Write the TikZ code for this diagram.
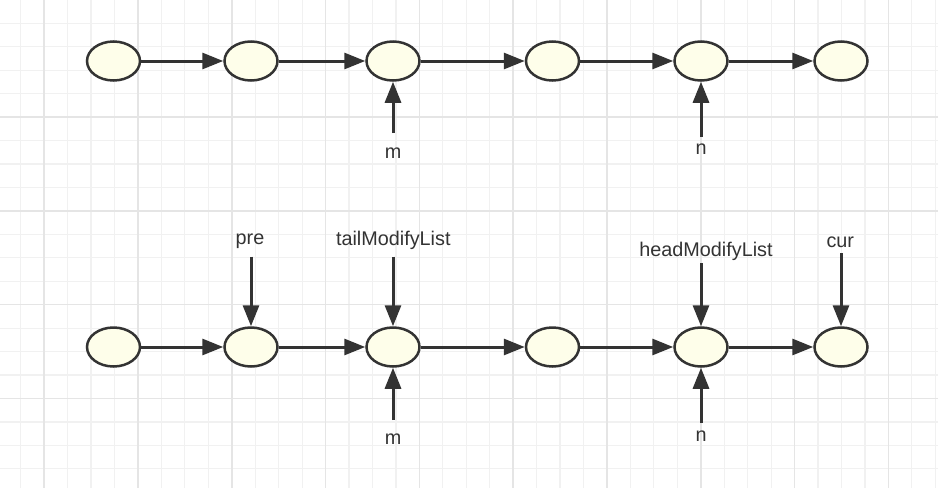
\documentclass[tikz,border=0pt]{standalone}
\usepackage{fontspec}
\setmainfont{Liberation Sans}
\usepackage{tikz}
\usetikzlibrary{arrows.meta,shapes.geometric}

\definecolor{ink}{HTML}{333333}
\definecolor{cellfill}{HTML}{FEFEEA}
\definecolor{gridlo}{HTML}{F1F1F1}
\definecolor{gridhi}{HTML}{E5E5E5}

\begin{document}
\begin{tikzpicture}[x=1pt, y=-1pt,
    cell/.style={ellipse, draw=ink, fill=cellfill, line width=2.5pt, minimum width=53pt, minimum height=39pt, inner sep=0pt},
    arrow/.style={-{Triangle[length=21pt, width=16pt]}, color=ink, line width=3pt},
    lab/.style={font=\fontsize{19.8}{22}\selectfont, text=ink, inner sep=0pt},
    gridminor/.style={draw=gridlo, line width=1.2pt},
    gridmajor/.style={draw=gridhi, line width=1.5pt},
]
% canvas and grid
\useasboundingbox[fill=white] (0,0) rectangle (938,488);
\foreach \gx in {20.7,44.15,...,938} \draw[gridminor] (\gx,0) -- (\gx,488);
\foreach \gy in {23.3,46.75,...,488} \draw[gridminor] (0,\gy) -- (938,\gy);
\foreach \gx in {44.15,137.95,...,938} \draw[gridmajor] (\gx,0) -- (\gx,488);
\foreach \gy in {117.1,210.9,...,488} \draw[gridmajor] (0,\gy) -- (938,\gy);

% top list
\node[cell] (t1) at (113.5, 61) {};
\node[cell] (t2) at (251, 61) {};
\node[cell] (t3) at (393, 61) {};
\node[cell] (t4) at (552.5, 61) {};
\node[cell] (t5) at (701, 61) {};
\node[cell] (t6) at (841, 61) {};
\foreach \a/\b in {1/2,2/3,3/4,4/5,5/6} \draw[arrow] (t\a) -- (t\b);

% m and n on the top list
\node[lab] (tm) at (393, 153.5) {m};
\coordinate (tmt) at (393, 133);
\draw[arrow] (tmt) -- (t3);
\node[lab] (tn) at (701, 149.5) {n};
\coordinate (tnt) at (701, 137);
\draw[arrow] (tnt) -- (t5);

% bottom list
\node[cell] (b1) at (113.5, 347) {};
\node[cell] (b2) at (251, 347) {};
\node[cell] (b3) at (393, 347) {};
\node[cell] (b4) at (552.5, 347) {};
\node[cell] (b5) at (701, 347) {};
\node[cell] (b6) at (841, 347) {};
\foreach \a/\b in {1/2,2/3,3/4,4/5,5/6} \draw[arrow] (b\a) -- (b\b);

% pointers above the bottom list
\node[lab] (pre) at (250, 241.5) {pre};
\coordinate (pret) at (251, 256.7);
\draw[arrow] (pret) -- (b2);
\node[lab] (tml) at (393.3, 240) {tailModifyList};
\coordinate (tmlt) at (393, 256.7);
\draw[arrow] (tmlt) -- (b3);
\node[lab] (hml) at (706, 251.5) {headModifyList};
\coordinate (hmlt) at (701, 263);
\draw[arrow] (hmlt) -- (b5);
\node[lab] (cur) at (840.3, 242) {cur};
\coordinate (curt) at (841, 253.3);
\draw[arrow] (curt) -- (b6);

% m and n on the bottom list
\node[lab] (bm) at (393, 439.5) {m};
\coordinate (bmt) at (393, 420);
\draw[arrow] (bmt) -- (b3);
\node[lab] (bn) at (701, 436.5) {n};
\coordinate (bnt) at (701, 423);
\draw[arrow] (bnt) -- (b5);
\end{tikzpicture}
\end{document}
